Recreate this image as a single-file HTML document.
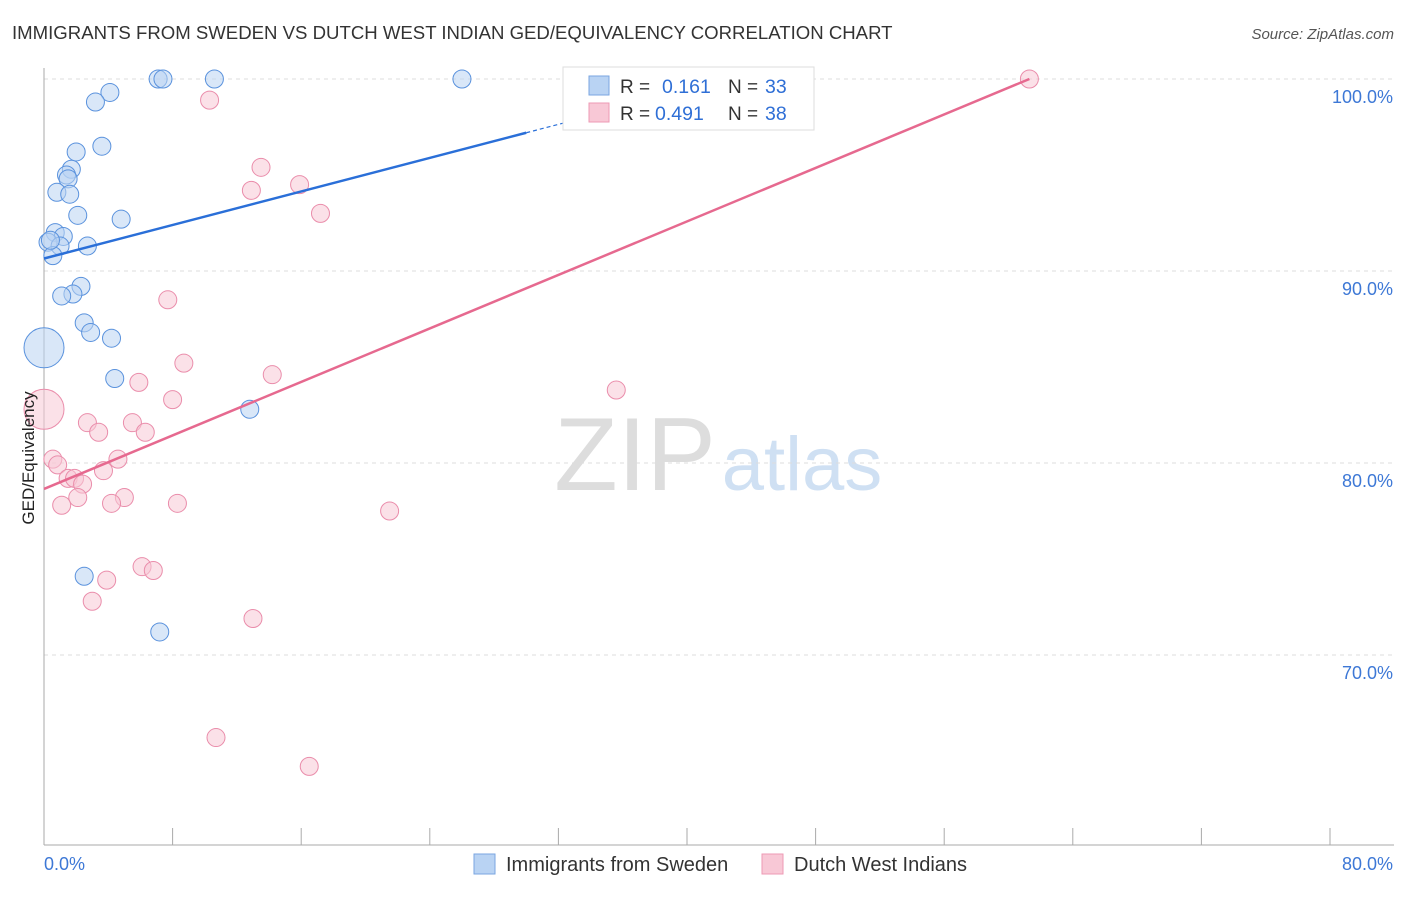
<!DOCTYPE html>
<html><head><meta charset="utf-8">
<style>
body{margin:0;background:#fff;font-family:"Liberation Sans",sans-serif;}
svg text{font-family:"Liberation Sans",sans-serif;}
</style></head>
<body>
<svg id="chart" width="1406" height="892" xmlns="http://www.w3.org/2000/svg">
<text x="12" y="39" font-size="18.6" fill="#333">IMMIGRANTS FROM SWEDEN VS DUTCH WEST INDIAN GED/EQUIVALENCY CORRELATION CHART</text>
<text x="1394" y="39" font-size="15" fill="#555" font-style="italic" text-anchor="end">Source: ZipAtlas.com</text>
<g>
<text x="635" y="490" font-size="104" fill="#ddd" font-family="Liberation Serif" text-anchor="middle">ZIP</text>
<text x="802" y="490" font-size="76" fill="#cfe0f3" text-anchor="middle">atlas</text>
</g>
<g id="grid"></g><g id="axes"></g><g id="pts"></g><g id="lines"></g>
<text x="34" y="458" font-size="17" fill="#222" text-anchor="middle" transform="rotate(-90 34 458)">GED/Equivalency</text>
<g>
<rect x="563" y="67" width="251" height="63" fill="#fff" stroke="#ddd"/>
<rect x="589" y="76" width="20" height="19" fill="#b9d3f3" stroke="#7aa6e0"/>
<text x="620" y="93" font-size="19" fill="#333">R = </text><text x="662" y="93" font-size="19.5" fill="#2f6fd6">0.161</text>
<text x="728" y="93" font-size="19" fill="#333">N = </text><text x="765" y="93" font-size="19.5" fill="#2f6fd6">33</text>
<rect x="589" y="103" width="20" height="19" fill="#f8c8d6" stroke="#ee9ab4"/>
<text x="620" y="120" font-size="19" fill="#333">R = </text><text x="655" y="120" font-size="19.5" fill="#2f6fd6">0.491</text>
<text x="728" y="120" font-size="19" fill="#333">N = </text><text x="765" y="120" font-size="19.5" fill="#2f6fd6">38</text>
</g>
<g>
<rect x="474" y="854" width="21" height="20" fill="#b9d3f3" stroke="#7aa6e0"/>
<text x="506" y="871" font-size="20" fill="#333">Immigrants from Sweden</text>
<rect x="762" y="854" width="21" height="20" fill="#f8c8d6" stroke="#ee9ab4"/>
<text x="794" y="871" font-size="20" fill="#333">Dutch West Indians</text>
</g>
</svg>
<script>
const yTicks=[100,90,80,70];
const xTicks=[0,8,16,24,32,40,48,56,64,72,80];
const blueX=[7.1,7.4,10.6,26.0,4.1,3.2,3.6,2.0,1.7,1.4,1.5,0.8,1.6,2.1,4.8,0.7,1.2,0.25,1.0,2.7,0.55,2.3,1.8,1.1,2.5,2.9,4.2,0.0,4.4,12.8,2.5,7.2,0.4];
const blueY=[100,100,100,100,99.3,98.8,96.5,96.2,95.3,95.0,94.8,94.1,94.0,92.9,92.7,92.0,91.8,91.5,91.3,91.3,90.8,89.2,88.8,88.7,87.3,86.8,86.5,86.0,84.4,82.8,74.1,71.2,91.6];
const blueR=[9,9,9,9,9,9,9,9,9,9,9,9,9,9,9,9,9,9,9,9,9,9,9,9,9,9,9,20,9,9,9,9,9];
const pinkX=[61.3,10.3,13.5,12.9,15.9,17.2,7.7,8.7,14.2,5.9,8.0,35.6,0.0,2.7,5.5,3.4,6.3,0.55,4.6,0.85,3.7,1.5,1.9,2.4,5.0,2.1,1.1,4.2,8.3,21.5,6.1,6.8,3.9,3.0,13.0,10.7,16.5];
const pinkY=[100,98.9,95.4,94.2,94.5,93.0,88.5,85.2,84.6,84.2,83.3,83.8,82.8,82.1,82.1,81.6,81.6,80.2,80.2,79.9,79.6,79.2,79.2,78.9,78.2,78.2,77.8,77.9,77.9,77.5,74.6,74.4,73.9,72.8,71.9,65.7,64.2];
const pinkR=[9,9,9,9,9,9,9,9,9,9,9,9,20,9,9,9,9,9,9,9,9,9,9,9,9,9,9,9,9,9,9,9,9,9,9,9,9];
const blueLine=[0,90.65,30,97.2];
const pinkLine=[0,78.65,61.3,100];
const X=v=>44+v*16.075, Y=v=>79+(100-v)*19.2;
const NS="http://www.w3.org/2000/svg";
function mk(tag,parent,attrs){const e=document.createElementNS(NS,tag);for(const k in attrs)e.setAttribute(k,attrs[k]);document.getElementById(parent).appendChild(e);return e;}
yTicks.forEach(t=>{
 const l=mk('line','grid',{x1:44,x2:1394,y1:Y(t),y2:Y(t),stroke:'#ddd','stroke-dasharray':'4 4'});
 
 
 const tx=mk('text','grid',{x:1393,y:Y(t)+24,'font-size':18,fill:'#3d78d6','text-anchor':'end'});
 tx.textContent=t.toFixed(1)+'%';
 
 
});
const ax=mk('line','axes',{x1:44,x2:44,y1:68,y2:845,stroke:'#aaa'});


const bx=mk('line','axes',{x1:44,x2:1394,y1:845,y2:845,stroke:'#aaa'});


xTicks.forEach(t=>{
 const l=mk('line','axes',{x1:X(t),x2:X(t),y1:828,y2:845,stroke:'#aaa'});
 
 
});
[[0,'start',44],[80,'end',1393]].forEach(([v,a,x])=>{
 const t=mk('text','axes',{x:x,y:870,'font-size':18,fill:'#3d78d6','text-anchor':a});
 t.textContent=v.toFixed(1)+'%';
 
 
});
function pts(xs,ys,rs,fill,stroke,name){xs.forEach((x,i)=>{
 const c=mk('circle','pts',{cx:X(x),cy:Y(ys[i]),r:rs[i],fill:fill,'fill-opacity':0.55,stroke:stroke,'stroke-width':1});
 
 
});}
pts(blueX,blueY,blueR,'#b9d3f3','#5a92dd','sweden-point');
pts(pinkX,pinkY,pinkR,'#f8c8d6','#ea8dab','dutch-west-indian-point');
const bl=mk('line','lines',{x1:X(blueLine[0]),y1:Y(blueLine[1]),x2:X(blueLine[2]),y2:Y(blueLine[3]),stroke:'#2a6fd8','stroke-width':2.5});


const bd=mk('line','lines',{x1:X(blueLine[2]),y1:Y(blueLine[3]),x2:X(33),y2:Y(blueLine[1]+(blueLine[3]-blueLine[1])*33/30),stroke:'#2a6fd8','stroke-width':1.2,'stroke-dasharray':'4 3'});


const pl=mk('line','lines',{x1:X(pinkLine[0]),y1:Y(pinkLine[1]),x2:X(pinkLine[2]),y2:Y(pinkLine[3]),stroke:'#e6698f','stroke-width':2.5});


</script>
</body></html>
